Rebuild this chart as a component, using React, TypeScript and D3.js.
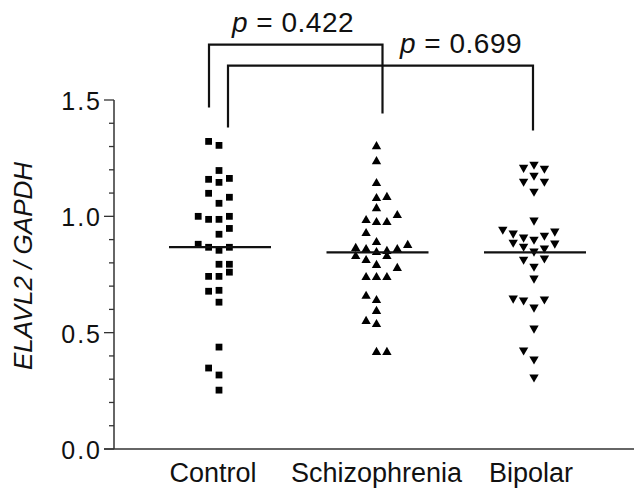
import * as d3 from "d3";

const categories = ["Control", "Schizophrenia", "Bipolar"];

const controlValues = [1.322, 1.305, 1.197, 1.159, 1.146, 1.163, 1.099, 1.082, 1.056, 1.0, 0.987, 0.987, 1.0, 0.948, 0.923, 0.88, 0.867, 0.854, 0.867, 0.794, 0.794, 0.76, 0.742, 0.742, 0.678, 0.682, 0.631, 0.438, 0.348, 0.318, 0.253];
const controlLanes = [-1, 0, 0, -1, 0, 1, -1, 1, 0, -2, -1, 0, 1, 1, 0, -2, -1, 0, 1, 0, 1, 1, -1, 0, -1, 0, 0, 0, -1, 0, 0];

const schizoValues = [1.3, 1.236, 1.142, 1.077, 1.082, 1.034, 1.004, 0.983, 0.974, 0.974, 0.927, 0.888, 0.876, 0.863, 0.858, 0.845, 0.85, 0.858, 0.828, 0.811, 0.828, 0.79, 0.777, 0.738, 0.738, 0.738, 0.657, 0.639, 0.592, 0.549, 0.536, 0.416, 0.416];
const schizoLanes = [0, 0, 0, 0, 1, 0, 2, -1, 0, 1, -1, 0, 3, -2, -1, 0, 1, 2, -2, -1, 1, 0, 2, -1, 0, 1, -1, 0, 0, -1, 0, 0, 1];

const bipolarValues = [1.21, 1.223, 1.206, 1.176, 1.15, 1.15, 1.107, 0.983, 0.944, 0.927, 0.91, 0.901, 0.918, 0.936, 0.888, 0.871, 0.884, 0.85, 0.863, 0.815, 0.82, 0.785, 0.734, 0.648, 0.64, 0.609, 0.644, 0.519, 0.425, 0.386, 0.309];
const bipolarLanes = [-1, 0, 1, 0, -1, 1, 0, 0, -3, -2, -1, 0, 1, 2, -2, -1, 2, 0, 1, -1, 1, 0, 0, -2, -1, 0, 1, 0, -1, 0, 0];

const means = [0.868, 0.845, 0.845];

const yTicks = [0, 0.5, 1.0, 1.5];
const pLabels = ["0.422", "0.699"];

const W = 634;
const H = 490;

const App = () => {
  const y = d3.scaleLinear().domain([0, 1.5]).range([449, 100]);
  const x = d3.scalePoint().domain(categories).range([219, 534]);
  const lane = d3.scaleLinear().domain([0, 1]).range([0, 10.4]);
  const minor = d3.range(0, 1.5001, 0.1);

  const groups = [
    { values: controlValues, lanes: controlLanes, shape: "square" },
    { values: schizoValues, lanes: schizoLanes, shape: "up" },
    { values: bipolarValues, lanes: bipolarLanes, shape: "down" },
  ];

  const sq = d3.symbol(d3.symbolSquare, 46)()!;
  const tri = d3.symbol(d3.symbolTriangle, 38)()!;

  const axisX = 114;
  const font = "'Liberation Sans', Arial, sans-serif";

  // bracket levels in data units
  const brackets = [
    { from: 0, to: 1, top: 1.738, l: 1.468, r: 1.442, dl: -10, dr: 6, tx: 293, ty: 32 },
    { from: 0, to: 2, top: 1.648, l: 1.382, r: 1.369, dl: 9, dr: -1, tx: 461, ty: 53 },
  ];

  return (
    <svg width={W} height={H} style={{ position: "absolute", left: 0, top: 0, background: "#fff" }}>
      {/* y axis */}
      <line x1={axisX} x2={axisX} y1={y(1.5)} y2={y(0)} stroke="#333" strokeWidth={1.5} />
      {minor.map((t, i) => (
        <line key={i} x1={axisX - (i % 5 === 0 ? 10 : 5)} x2={axisX} y1={y(t)} y2={y(t)} stroke="#333" strokeWidth={1.3} />
      ))}
      {yTicks.map((t) => (
        <text key={t} x={102} y={y(t) + 1} textAnchor="end" dominantBaseline="central" fontFamily={font} fontSize={25} letterSpacing={2} fill="#111">
          {t.toFixed(1)}
        </text>
      ))}
      <text transform={`translate(23,${266}) rotate(-90)`} textAnchor="middle" dominantBaseline="central" fontFamily={font} fontSize={26} fontStyle="italic" fill="#111">
        ELAVL2 / GAPDH
      </text>

      {/* x axis */}
      <line x1={104} x2={W} y1={y(0)} y2={y(0)} stroke="#333" strokeWidth={1.5} />
      {categories.map((c, i) => (
        <text key={c} x={x(c)! + (i === 0 ? -6 : i === 2 ? -3 : 0)} y={482} textAnchor="middle" fontFamily={font} fontSize={27} fill="#111">
          {c}
        </text>
      ))}

      {/* points */}
      {groups.map((g, gi) => (
        <g key={gi}>
          {g.values.map((v, i) => {
            const cx = x(categories[gi])! + lane(g.lanes[i]);
            const cy = y(v);
            const d = g.shape === "square" ? sq : tri;
            const rot = g.shape === "down" ? " rotate(180)" : "";
            return <path key={i} d={d} transform={`translate(${cx},${cy})${rot}`} fill="#000" />;
          })}
          <line
            x1={x(categories[gi])! - 50}
            x2={x(categories[gi])! + 52}
            y1={y(means[gi])}
            y2={y(means[gi])}
            stroke="#111"
            strokeWidth={2.2}
          />
        </g>
      ))}

      {/* comparison brackets */}
      {brackets.map((b, i) => {
        const x1 = x(categories[b.from])! + b.dl;
        const x2 = x(categories[b.to])! + b.dr;
        return (
          <g key={i}>
            <path
              d={`M${x1},${y(b.l)}V${y(b.top)}H${x2}V${y(b.r)}`}
              fill="none"
              stroke="#111"
              strokeWidth={2.2}
            />
            <text x={b.tx} y={b.ty} textAnchor="middle" fontFamily={font} fontSize={28} letterSpacing={0.5} fill="#111">
              <tspan fontStyle="italic">p</tspan> = {pLabels[i]}
            </text>
          </g>
        );
      })}
    </svg>
  );
};

export default App;
